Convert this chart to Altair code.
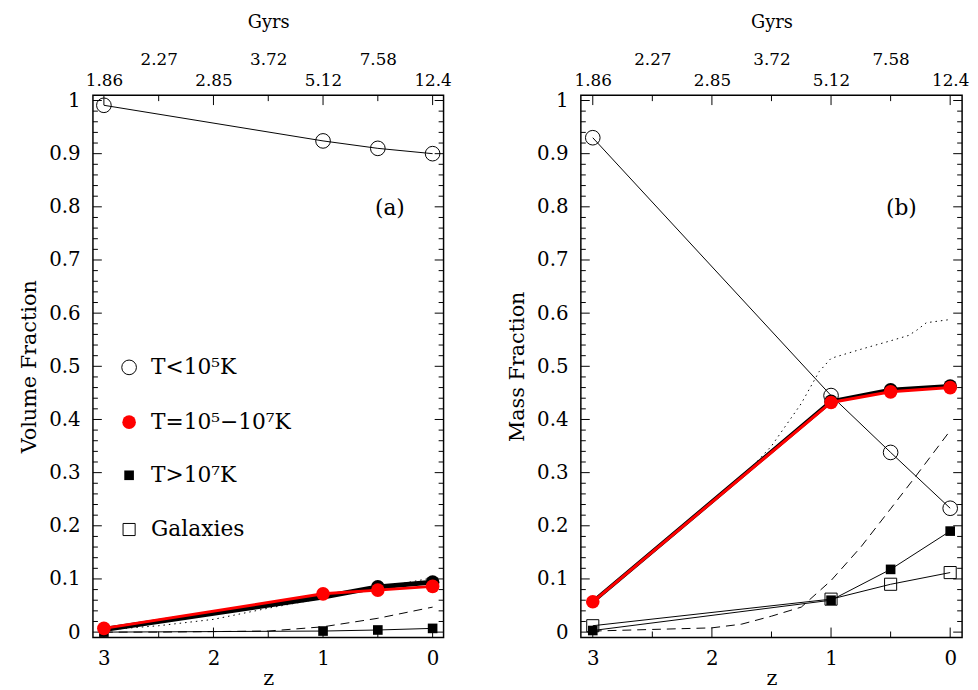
import altair as alt
import pandas as pd

# ---------------- data ----------------
z_snap = [3, 1, 0.5, 0]

# panel (a): volume fractions
a_cold = [0.991, 0.924, 0.910, 0.900]
a_warm = [0.007, 0.072, 0.079, 0.086]
a_warm_blk = [0.005, 0.066, 0.085, 0.094]
a_hot = [0.0, 0.002, 0.004, 0.007]
z_curve_a = [3, 2.5, 2, 1.5, 1, 0.5, 0]
a_dotted = [0.004, 0.012, 0.024, 0.045, 0.064, 0.083, 0.102]
a_dashed = [0.0, 0.0, 0.001, 0.002, 0.010, 0.026, 0.047]

# panel (b): mass fractions
b_cold = [0.930, 0.445, 0.338, 0.233]
b_warm = [0.057, 0.432, 0.452, 0.460]
b_warm_blk = [0.057, 0.434, 0.456, 0.463]
b_hot = [0.003, 0.060, 0.118, 0.190]
b_gal = [0.012, 0.062, 0.090, 0.112]
z_dotted_b = [3, 2.5, 2, 1.75, 1.5, 1.25, 1.1, 1.0, 0.75, 0.5, 0.35, 0.28, 0.2, 0]
b_dotted = [0.055, 0.15, 0.245, 0.29, 0.35, 0.43, 0.49, 0.515, 0.532, 0.548, 0.558, 0.568, 0.582, 0.588]
z_dashed_b = [3, 2.5, 2, 1.75, 1.5, 1.25, 1.0, 0.75, 0.5, 0.3, 0]
b_dashed = [0.002, 0.005, 0.008, 0.015, 0.030, 0.047, 0.097, 0.160, 0.232, 0.290, 0.379]

# axes / ticks
z_major = [3, 2, 1, 0]
z_minor = [2.5, 1.5, 0.5]
z_top = [3, 2.5, 2, 1.5, 1, 0.5, 0]
gyr_labels = ["1.86", "2.27", "2.85", "3.72", "5.12", "7.58", "12.4"]
y_major = [0, 0.1, 0.2, 0.3, 0.4, 0.5, 0.6, 0.7, 0.8, 0.9, 1.0]
y_minor = [round(i * 0.02, 2) for i in range(51) if i % 5 != 0]

# legend (panel a)
legend_labels = ["T<10⁵K", "T=10⁵−10⁷K", "T>10⁷K", "Galaxies"]
legend_y = [0.498, 0.395, 0.295, 0.193]
legend_sym_z = 2.77
legend_txt_z = 2.57

FONT = "DejaVu Serif"
X_DOM = [-0.1, 3.1]
Y_DOM = [-0.01, 1.01]
H = 549


def xenc(field="z", axis=None):
    return alt.X(f"{field}:Q",
                 scale=alt.Scale(domain=X_DOM, reverse=True, nice=False, zero=False),
                 axis=axis)


def yenc(field="v", axis=None):
    return alt.Y(f"{field}:Q",
                 scale=alt.Scale(domain=Y_DOM, nice=False, zero=False),
                 axis=axis)


def df(zs, vs):
    return pd.DataFrame({"z": zs, "v": vs})


def line(zs, vs, color="black", width=1.0, dash=None):
    kw = dict(color=color, strokeWidth=width, clip=True)
    if dash is not None:
        kw["strokeDash"] = dash
    return alt.Chart(df(zs, vs)).mark_line(**kw).encode(x=xenc(), y=yenc())


def open_circles(zs, vs):
    return alt.Chart(df(zs, vs)).mark_point(shape="circle", filled=False, color="black",
                                            size=220, strokeWidth=1, opacity=1).encode(x=xenc(), y=yenc())


def red_circles(zs, vs, color="red"):
    return alt.Chart(df(zs, vs)).mark_circle(color=color, size=190, opacity=1).encode(x=xenc(), y=yenc())


def filled_squares(zs, vs):
    return alt.Chart(df(zs, vs)).mark_square(color="black", size=95, opacity=1).encode(x=xenc(), y=yenc())


def open_squares(zs, vs):
    return alt.Chart(df(zs, vs)).mark_point(shape="square", filled=False, color="black",
                                            size=150, strokeWidth=1, opacity=1).encode(x=xenc(), y=yenc())


top_label_expr = " : ".join(
    f"datum.value == {z} ? '{g}'" for z, g in zip(z_top, gyr_labels)) + " : ''"


def frame_layers(width, ytitle):
    ymaj = pd.DataFrame({"v": y_major})
    ymin = pd.DataFrame({"v": y_minor})
    xmaj = pd.DataFrame({"z": z_major})
    xmin = pd.DataFrame({"z": z_minor})
    xtop = pd.DataFrame({"z": z_top})
    rule = dict(color="black", strokeWidth=1)
    layers = [
        # left y ticks (major one carries the y axis)
        alt.Chart(ymaj).mark_rule(**rule).encode(
            y=yenc("v", axis=alt.Axis(values=y_major, format="~g", ticks=False, domain=False,
                                      labelPadding=13, labelFontSize=20, title=ytitle,
                                      titleFontSize=21, titlePadding=9)),
            x=alt.value(0), x2=alt.value(9)),
        alt.Chart(ymin).mark_rule(**rule).encode(y=yenc("v"), x=alt.value(0), x2=alt.value(5)),
        alt.Chart(ymaj).mark_rule(**rule).encode(y=yenc("v"), x=alt.value(width - 9), x2=alt.value(width)),
        alt.Chart(ymin).mark_rule(**rule).encode(y=yenc("v"), x=alt.value(width - 5), x2=alt.value(width)),
        # bottom x ticks (major one carries the bottom axis)
        alt.Chart(xmaj).mark_rule(**rule).encode(
            x=xenc("z", axis=alt.Axis(orient="bottom", values=z_major, format="d", ticks=False,
                                      domain=False, labelPadding=11, labelFontSize=20, title="z",
                                      titleFontSize=21, titleBaseline="alphabetic",
                                      titlePadding=17)),
            y=alt.value(H - 10), y2=alt.value(H)),
        alt.Chart(xmin).mark_rule(**rule).encode(x=xenc("z"), y=alt.value(H - 6), y2=alt.value(H)),
        alt.Chart(xmaj).mark_rule(**rule).encode(x=xenc("z"), y=alt.value(0), y2=alt.value(10)),
        # top minor ticks carry the Gyrs axis
        alt.Chart(xtop).mark_rule(opacity=0).encode(
            x=xenc("z", axis=alt.Axis(orient="top", values=z_top, labelExpr=top_label_expr,
                                      ticks=False, domain=False, labelFontSize=17,
                                      labelPadding={"condition": {"test": "datum.value % 1 != 0",
                                                                  "value": 27},
                                                    "value": 6},
                                      title="Gyrs", titleFontSize=18, titlePadding=20)),
            y=alt.value(0), y2=alt.value(6)),
        alt.Chart(xmin).mark_rule(**rule).encode(x=xenc("z"), y=alt.value(0), y2=alt.value(6)),
    ]
    return layers


W_A = 355
W_B = 386

# ---------------- panel (a) ----------------
leg_df = pd.DataFrame({"z": [legend_txt_z] * 4, "v": legend_y, "t": legend_labels})
panel_a = alt.layer(
    *frame_layers(W_A, "Volume Fraction"),
    line(z_curve_a, a_dotted, dash=[1.5, 4]),
    line(z_curve_a, a_dashed, dash=[9, 6]),
    line(z_snap, a_cold),
    open_circles(z_snap, a_cold),
    line(z_snap, a_hot),
    filled_squares(z_snap, a_hot),
    line(z_snap, a_warm_blk, width=5),
    red_circles(z_snap[2:], a_warm_blk[2:], color="black"),
    line(z_snap, a_warm, color="red", width=3),
    red_circles(z_snap, a_warm),
    # legend
    open_circles([legend_sym_z], [legend_y[0]]),
    red_circles([legend_sym_z], [legend_y[1]]),
    filled_squares([legend_sym_z], [legend_y[2]]),
    open_squares([legend_sym_z], [legend_y[3]]),
    alt.Chart(leg_df).mark_text(align="left", baseline="middle", font=FONT, fontSize=22,
                                color="black").encode(x=xenc(), y=yenc(), text="t:N"),
    alt.Chart(pd.DataFrame({"z": [0.39], "v": [0.798], "t": ["(a)"]})).mark_text(
        align="center", baseline="middle", font=FONT, fontSize=22, color="black").encode(
        x=xenc(), y=yenc(), text="t:N"),
).properties(width=W_A, height=H).resolve_axis(x="independent", y="independent")

# ---------------- panel (b) ----------------
panel_b = alt.layer(
    *frame_layers(W_B, "Mass Fraction"),
    line(z_dotted_b, b_dotted, dash=[1.5, 4]),
    line(z_dashed_b, b_dashed, dash=[9, 6]),
    line(z_snap, b_cold),
    open_circles(z_snap, b_cold),
    line(z_snap, b_gal),
    open_squares(z_snap, b_gal),
    line(z_snap, b_hot),
    filled_squares(z_snap, b_hot),
    line(z_snap, b_warm_blk, width=4),
    red_circles(z_snap[1:], b_warm_blk[1:], color="black"),
    line(z_snap, b_warm, color="red", width=3),
    red_circles(z_snap, b_warm),
    alt.Chart(pd.DataFrame({"z": [0.41], "v": [0.798], "t": ["(b)"]})).mark_text(
        align="center", baseline="middle", font=FONT, fontSize=22, color="black").encode(
        x=xenc(), y=yenc(), text="t:N"),
).properties(width=W_B, height=H).resolve_axis(x="independent", y="independent")

chart = alt.hconcat(panel_a, panel_b, spacing=54).properties(
    padding={"left": 10, "top": 0, "right": 0, "bottom": 0}
).configure_axis(
    labelFont=FONT, titleFont=FONT, labelColor="black", titleColor="black",
    titleFontWeight="normal", grid=False
).configure_view(stroke="black", strokeWidth=1.5)

chart.save("out.html", embed_options={"renderer": "svg", "actions": False})
